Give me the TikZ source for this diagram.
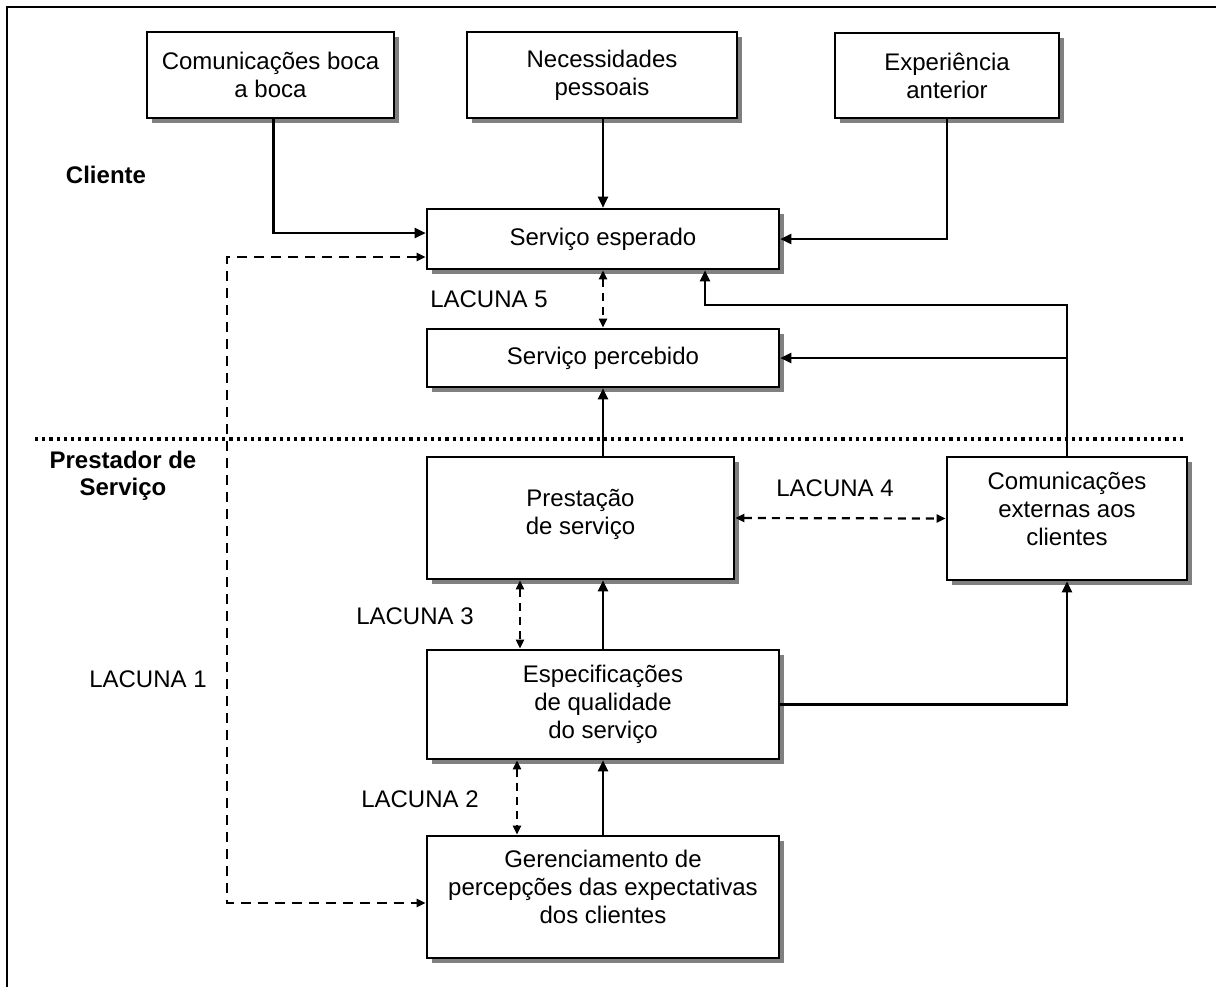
\documentclass[tikz,border=0pt]{standalone}
\usepackage{fontspec}
\setmainfont{Liberation Sans}
\usetikzlibrary{arrows.meta,shadows}

\tikzset{
  box/.style={draw,line width=1.3pt,fill=white,align=center,inner sep=0pt,
    drop shadow={shadow xshift=2.5pt,shadow yshift=-2.5pt,fill=black!50,opacity=1}},
  arr/.style={-{Triangle[length=5.5pt,width=5pt]}},
  gap/.style={{Triangle[length=4.5pt,width=4pt]}-{Triangle[length=4.5pt,width=4pt]},dash pattern=on 4pt off 3pt},
  side/.style={font=\fontsize{12}{13.5}\selectfont\bfseries,align=center}
}

\begin{document}
\begin{tikzpicture}[x=0.5pt,y=-0.5pt,line width=1.1pt,font=\fontsize{12}{14}\selectfont]
  \useasboundingbox (0,0) rectangle (1216,987);
  \draw[line width=1.4pt] (1216,7) -- (7,7) -- (7,987);

  \node[box,minimum width=123.5pt,minimum height=43pt] (boca) at (270.5,75) {Comunicações boca\\a boca};
  \node[box,minimum width=135pt,minimum height=43pt] (neces) at (602,75) {Necessidades\\pessoais};
  \node[box,minimum width=112pt,minimum height=42.5pt] (exper) at (947,75.5) {Experiência\\anterior};
  \node[box,minimum width=176pt,minimum height=30pt] (esper) at (603,239) {Serviço esperado};
  \node[box,minimum width=176pt,minimum height=29pt] (perceb) at (603,358) {Serviço percebido};
  \node[box,minimum width=153.5pt,minimum height=61pt,text depth=6pt] (prest) at (580.5,518) {Prestação\\de serviço};
  \node[box,minimum width=120pt,minimum height=61.5pt,text depth=10pt] (comext) at (1067,518.5) {Comunicações\\externas aos\\clientes};
  \node[box,minimum width=176pt,minimum height=54.5pt] (espec) at (603,704.5) {Especificações\\de qualidade\\do serviço};
  \node[box,minimum width=176pt,minimum height=61pt,text depth=10pt] (geren) at (603,897) {Gerenciamento de\\percepções das expectativas\\dos clientes};

  \node[side] (cliente) at (106,175) {Cliente};
  \node[side] (prestador) at (123,476) {Prestador de\\Serviço};
  \draw[line width=1.6pt,dash pattern=on 1.6pt off 2pt] (35,439) -- (1185,439);

  \node (lac5) at (489,299) {LACUNA 5};
  \node (lac4) at (835,488) {LACUNA 4};
  \node (lac3) at (415,616) {LACUNA 3};
  \node (lac2) at (420,799) {LACUNA 2};
  \node (lac1) at (148,679) {LACUNA 1};

  \coordinate (bend) at (705,305);
  \coordinate (g3) at (520,0);
  \coordinate (g2) at (517,0);
  \coordinate (g1a) at (227,903);

  \draw[arr] ([xshift=1.5pt]boca.south) |- ([yshift=3pt]esper.west);
  \draw[arr] (esper.north |- neces.south) -- (esper.north);
  \draw[arr] (exper.south) |- (esper.east);
  \draw[gap] (esper.south) -- (perceb.north);
  \draw[arr] (comext.north) |- (bend) -- (bend |- esper.south);
  \draw[arr] (comext.north |- perceb.east) -- (perceb.east);
  \draw[arr] (prest.north -| perceb.south) -- (perceb.south);
  \draw[gap] (prest.east) -- (comext.west);
  \draw[gap] (prest.south -| g3) -- (espec.north -| g3);
  \draw[arr] (espec.north) -- (espec.north |- prest.south);
  \draw[arr] (espec.east) -| (comext.south);
  \draw[gap] (espec.south -| g2) -- (geren.north -| g2);
  \draw[arr] (geren.north) -- (espec.south);
  \draw[gap,dash pattern=on 5pt off 3.5pt] ([yshift=-9pt]esper.west) -| (g1a) -- ([yshift=-3pt]geren.west);
\end{tikzpicture}
\end{document}
